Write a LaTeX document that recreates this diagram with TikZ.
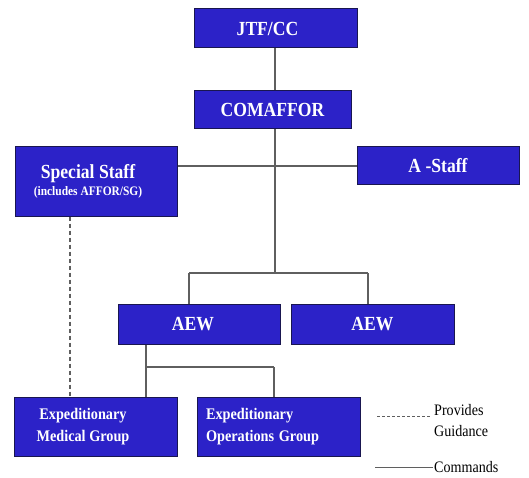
\documentclass[tikz,border=0pt]{standalone}
\usepackage{graphicx}
\usepackage{fontspec}
\setmainfont{Liberation Serif}
\newcommand\cond[1]{\scalebox{0.88}[1]{#1}}
\definecolor{boxblue}{RGB}{44,34,200}
\definecolor{boxedge}{RGB}{25,22,80}
\definecolor{linegray}{RGB}{95,95,95}
\tikzset{
  orgbox/.style={draw=boxedge, line width=1pt, fill=boxblue, text=white, font=\bfseries, inner sep=0pt, align=center},
  bigtext/.style={font=\bfseries\fontsize{20}{22}\selectfont},
  grouptext/.style={font=\bfseries\fontsize{16.2}{22.5}\selectfont},
  cmd/.style={draw=linegray, line width=1.1pt},
  guide/.style={draw=linegray, line width=1.1pt, dash pattern=on 4pt off 3pt},
  legtext/.style={font=\fontsize{16}{21.5}\selectfont, align=left, inner sep=0pt}
}
\begin{document}
\begin{tikzpicture}[x=1pt,y=-1pt]
\useasboundingbox[fill=white] (0,0) rectangle (529,478);
% boxes
\node[orgbox, bigtext, minimum width=163pt, minimum height=39pt] (jtf) at (275.5,28.5) {\cond{JTF/CC}\hspace*{16pt}};
\node[orgbox, bigtext, minimum width=157pt, minimum height=38pt] (comaffor) at (272.5,110) {\cond{COMAFFOR}};
\node[orgbox, minimum width=162pt, minimum height=69pt] (special) at (96,181.5) {{\fontsize{20}{22}\selectfont\cond{Special Staff}}\hspace*{16pt}\\[3pt]{\fontsize{13}{14}\selectfont\cond{(includes AFFOR/SG)}}\hspace*{16pt}};
\node[orgbox, bigtext, minimum width=162pt, minimum height=38pt] (astaff) at (438,166) {\cond{A -Staff}};
\node[orgbox, bigtext, minimum width=162pt, minimum height=40pt] (aew1) at (199,324) {\cond{AEW}\hspace*{12pt}};
\node[orgbox, bigtext, minimum width=163pt, minimum height=40pt] (aew2) at (372.5,324) {\cond{AEW}};
\node[orgbox, grouptext, minimum width=163pt, minimum height=59pt] (expmed) at (95.5,426.5) {\cond{Expeditionary}\hspace*{25pt}\\\cond{Medical Group}\hspace*{25pt}};
\node[orgbox, grouptext, minimum width=163pt, minimum height=59pt, text width=145pt, align=left] (expops) at (278.5,426.5) {\cond{Expeditionary}\\\cond{Operations Group}};
% junction coordinates
\coordinate (bus) at (275,273);
\coordinate (busL) at (189,273);
\coordinate (busR) at (368,273);
\coordinate (sub) at (146,367);
\coordinate (subR) at (274,367);
% command lines
\draw[cmd] (bus |- jtf.south) -- (bus |- comaffor.north);
\draw[cmd] (bus |- comaffor.south) -- (bus);
\draw[cmd] (special.east |- astaff.west) -- (astaff.west);
\draw[cmd] (busL) -- (busR);
\draw[cmd] (busL) -- (busL |- aew1.north);
\draw[cmd] (busR) -- (busR |- aew2.north);
\draw[cmd] (sub |- aew1.south) -- (sub) -- (subR);
\draw[cmd] (sub) -- (sub |- expmed.north);
\draw[cmd] (subR) -- (subR |- expops.north);
% guidance
\coordinate (gd) at (70,216);
\draw[guide] (gd |- special.south) -- (gd |- expmed.north);
% legend
\node[legtext, anchor=north west] (prov) at (434,404) {\cond{Provides}\\\cond{Guidance}};
\node[legtext, anchor=west] (comm) at (434,467) {\cond{Commands}};
\coordinate (lg1) at (377,416);
\coordinate (lg2) at (375,467);
\draw[draw=linegray, line width=0.8pt, dash pattern=on 3pt off 2pt] (lg1) -- ([xshift=-3pt]lg1 -| prov.west);
\draw[draw=linegray, line width=0.8pt] (lg2) -- ([xshift=-1pt]comm.west);
\end{tikzpicture}
\end{document}
